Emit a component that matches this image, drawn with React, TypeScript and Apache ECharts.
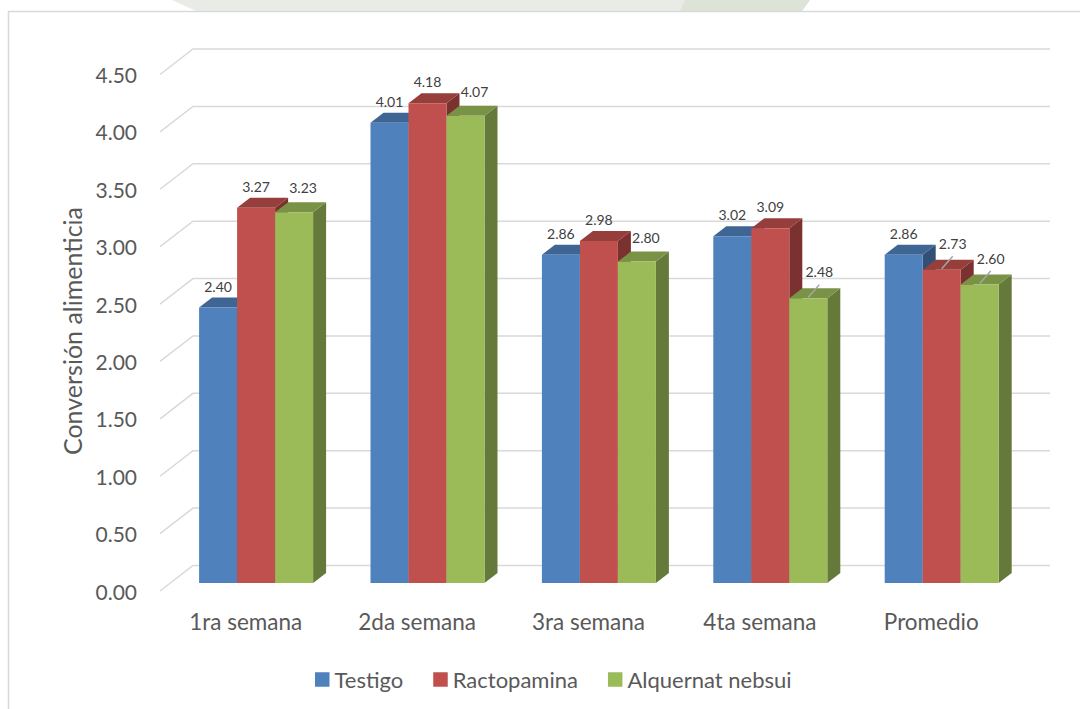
import React, { useEffect, useRef } from "react";
import * as echarts from "echarts";

const CATEGORIES = ["1ra semana", "2da semana", "3ra semana", "4ta semana", "Promedio"];
const SERIES_NAMES = ["Testigo", "Ractopamina", "Alquernat nebsui"];
const TESTIGO = [2.4, 4.01, 2.86, 3.02, 2.86];
const RACTOPAMINA = [3.27, 4.18, 2.98, 3.09, 2.73];
const ALQUERNAT = [3.23, 4.07, 2.8, 2.48, 2.6];
const Y_TICKS = [0, 0.5, 1, 1.5, 2, 2.5, 3, 3.5, 4, 4.5];
const Y_TITLE = "Conversión alimenticia";

const SERIES_VALUES = [TESTIGO, RACTOPAMINA, ALQUERNAT];

// front / top / side shades of each prism
const PALETTE = [
  { front: "#4F81BD", top: "#3E6594", side: "#315075" },
  { front: "#C0504D", top: "#963E3C", side: "#7A3130" },
  { front: "#9BBB59", top: "#799246", side: "#657A3A" },
];

// value labels that sit off the bar and get a short leader line ("series:category")
const LEADER_LABELS = new Set(["2:3", "1:4", "2:4"]);

const FONT = "Lato, 'Open Sans', sans-serif";
const WALL_DX = 33; // depth of the floor/back wall, screen x
const WALL_DY = 25.5; // depth of the floor/back wall, screen y
const BAR_SHIFT_X = 10.4; // bars stand slightly behind the axis plane
const BAR_SHIFT_Y = 8;
const BAR_W = 38;
const BAR_DX = 13; // prism depth
const BAR_DY = 10;

function gridRenderer(params: any, api: any) {
  const cs = params.coordSys;
  const v = api.value(0);
  const y = api.coord([0, v])[1];
  const xf = cs.x;
  return {
    type: "polyline",
    shape: {
      points: [
        [xf, y],
        [xf + WALL_DX, y - WALL_DY],
        [xf + cs.width + WALL_DX, y - WALL_DY],
      ],
    },
    style: { stroke: "#D9D9D9", lineWidth: 1.5, fill: null },
    silent: true,
  };
}

function barRenderer(s: number) {
  const pal = PALETTE[s];
  return (params: any, api: any) => {
    const idx = api.value(0);
    const v = api.value(1);
    const [cx, yv] = api.coord([idx, v]);
    const y0 = api.coord([idx, 0])[1];
    const x0 = cx + BAR_SHIFT_X - 1.5 * BAR_W + s * BAR_W;
    const x1 = x0 + BAR_W;
    const top = yv - BAR_SHIFT_Y;
    const base = y0 - BAR_SHIFT_Y;
    const fc = (x0 + x1) / 2;

    const children: any[] = [
      {
        type: "polygon",
        shape: {
          points: [
            [x1, top],
            [x1 + BAR_DX, top - BAR_DY],
            [x1 + BAR_DX, base - BAR_DY],
            [x1, base],
          ],
        },
        style: { fill: pal.side },
      },
      {
        type: "polygon",
        shape: {
          points: [
            [x0, top],
            [x0 + BAR_DX, top - BAR_DY],
            [x1 + BAR_DX, top - BAR_DY],
            [x1, top],
          ],
        },
        style: { fill: pal.top },
      },
      {
        type: "rect",
        shape: { x: x0, y: top, width: BAR_W, height: base - top },
        style: { fill: pal.front },
      },
    ];

    let lx = fc;
    let ly = top - 21.5;
    if (LEADER_LABELS.has(`${s}:${idx}`)) {
      lx = fc + 11;
      ly = top - 26.5;
      children.push({
        type: "line",
        shape: { x1: fc, y1: top - 1, x2: fc + 11, y2: top - 13.5 },
        style: { stroke: "#A6A6A6", lineWidth: 1.5 },
      });
    } else if (s === 2) {
      lx = fc + 9;
      ly = top - 24.5;
    }
    children.push({
      type: "text",
      style: {
        text: v.toFixed(2),
        x: lx,
        y: ly,
        align: "center",
        verticalAlign: "middle",
        fill: "#404040",
        fontSize: 14,
        fontFamily: FONT,
      },
    });

    return { type: "group", children };
  };
}

export default function App() {
  const ref = useRef<HTMLDivElement>(null);

  useEffect(() => {
    if (!ref.current) return;
    const chart = echarts.init(ref.current, null, { renderer: "svg" });

    const option: any = {
      animation: false,
      backgroundColor: "#FFFFFF",
      color: PALETTE.map((p) => p.front),
      textStyle: { fontFamily: FONT },
      grid: { left: 160, right: 63, top: 74.5, bottom: 118, containLabel: false },
      xAxis: {
        type: "category",
        data: CATEGORIES,
        axisLine: { show: false },
        axisTick: { show: false },
        splitLine: { show: false },
        axisLabel: {
          color: "#595959",
          fontSize: 22.5,
          fontFamily: FONT,
          margin: 19,
        },
      },
      yAxis: {
        type: "value",
        min: 0,
        max: 4.5,
        interval: 0.5,
        axisLine: { show: false },
        axisTick: { show: false },
        splitLine: { show: false },
        axisLabel: {
          color: "#595959",
          fontSize: 21,
          fontFamily: FONT,
          margin: 23,
          formatter: (val: number) => val.toFixed(2),
        },
      },
      legend: {
        data: SERIES_NAMES,
        left: 315,
        top: 668.5,
        padding: 0,
        icon: "rect",
        itemWidth: 14.5,
        itemHeight: 14.5,
        itemGap: 30,
        textStyle: { color: "#595959", fontSize: 22, fontFamily: FONT },
      },
      graphic: [
        {
          type: "polygon",
          silent: true,
          shape: {
            points: [
              [172, 0],
              [810, 0],
              [802, 11],
              [196, 11],
            ],
          },
          style: { fill: "#E9EBE7" },
        },
        {
          type: "polygon",
          silent: true,
          shape: {
            points: [
              [685, 0],
              [810, 0],
              [802, 11],
              [680, 11],
            ],
          },
          style: { fill: "#DEE3D7" },
        },
        {
          type: "rect",
          silent: true,
          shape: { x: 8.5, y: 11.5, width: 1200, height: 900 },
          style: { fill: "none", stroke: "#D9D9D9", lineWidth: 1.5 },
        },
        {
          type: "text",
          silent: true,
          x: 72,
          y: 331,
          rotation: Math.PI / 2,
          style: {
            text: Y_TITLE,
            align: "center",
            verticalAlign: "middle",
            fill: "#595959",
            fontSize: 25,
            fontFamily: FONT,
          },
        },
      ],
      series: [
        {
          type: "custom",
          name: "grid",
          silent: true,
          clip: false,
          renderItem: gridRenderer,
          data: Y_TICKS.map((t) => [t]),
          encode: { y: 0 },
          z: 1,
        },
        ...SERIES_NAMES.map((name, s) => ({
          type: "custom",
          name,
          clip: false,
          renderItem: barRenderer(s),
          data: SERIES_VALUES[s].map((v, i) => [i, v]),
          encode: { x: 0, y: 1 },
          itemStyle: { color: PALETTE[s].front },
          z: 2,
        })),
      ],
    };

    chart.setOption(option);
    return () => chart.dispose();
  }, []);

  return (
    <div
      ref={ref}
      style={{ position: "absolute", left: 0, top: 0, width: 1080, height: 709 }}
    />
  );
}
